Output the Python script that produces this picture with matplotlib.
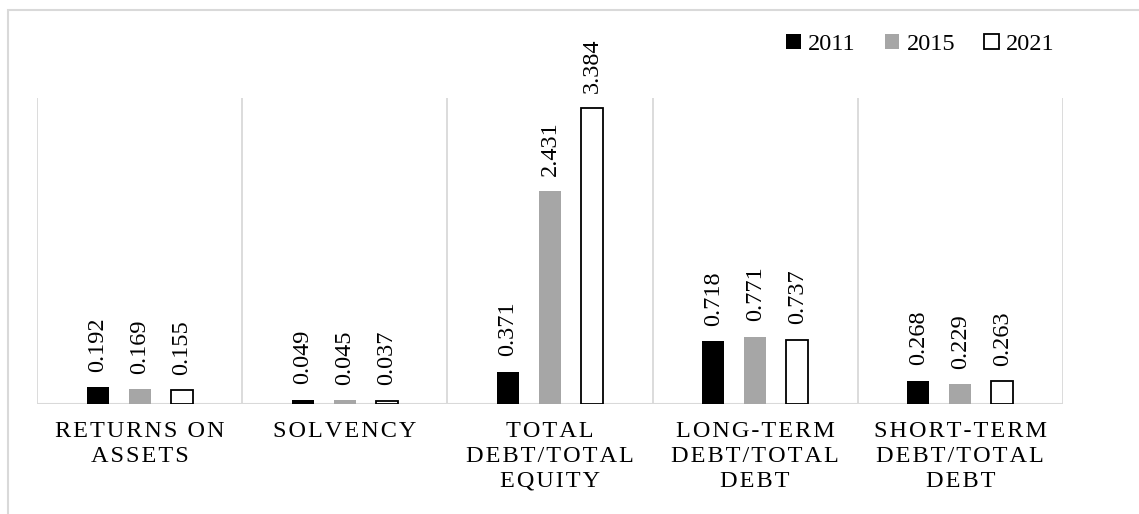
import numpy as np
import matplotlib
matplotlib.use("Agg")
import matplotlib.pyplot as plt
from matplotlib.patches import Rectangle

plt.rcParams['font.family'] = ['Liberation Serif', 'DejaVu Serif']

categories = ["RETURNS ON\nASSETS", "SOLVENCY", "TOTAL\nDEBT/TOTAL\nEQUITY",
              "LONG-TERM\nDEBT/TOTAL\nDEBT", "SHORT-TERM\nDEBT/TOTAL\nDEBT"]
years = ["2011", "2015", "2021"]
v2011 = [0.192, 0.049, 0.371, 0.718, 0.268]
v2015 = [0.169, 0.045, 2.431, 0.771, 0.229]
v2021 = [0.155, 0.037, 3.384, 0.737, 0.263]

FS = 17.5


def spaced(s):
    # excel style letter spacing
    return "\n".join("\u200a".join(line) for line in s.split("\n"))


fig = plt.figure(figsize=(11.39, 5.14), dpi=100)
ax = fig.add_axes([37/1139, 110/514, (1063-37)/1139, (404-98)/514])

x = np.arange(len(categories))
w = 0.107
step = 0.205
series = [v2011, v2015, v2021]
faces = ['black', '#a6a6a6', 'white']
edges = ['black', '#a6a6a6', 'black']
for i, (vals, fc, ec) in enumerate(zip(series, faces, edges)):
    bars = ax.bar(x + (i - 1) * step, vals, w, color=fc, edgecolor=ec,
                  linewidth=1.3 if i == 2 else 0, label=years[i], zorder=3)
    for b, v in zip(bars, vals):
        ax.annotate(f"{v:.3f}", (b.get_x() + b.get_width() / 2, b.get_height()),
                    xytext=(0, 11), textcoords='offset points', rotation=90,
                    ha='center', va='bottom', fontsize=FS)

ax.set_xlim(-0.5, 4.5)
ax.set_ylim(0, 3.5)
for sp in ax.spines.values():
    sp.set_visible(False)
for b in np.arange(-0.5, 5.0, 1.0):
    ax.axvline(b, color='#d9d9d9', lw=1.3, zorder=1)
ax.axhline(0, color='#d9d9d9', lw=1.5, zorder=2)
ax.set_yticks([])
ax.set_xticks(x)
ax.set_xticklabels([spaced(c) for c in categories], fontsize=FS, linespacing=1.25)
ax.tick_params(axis='x', length=0, pad=12)

ax.legend(loc='upper right', bbox_to_anchor=(1072/1139, 1 - 17/514),
          bbox_transform=fig.transFigure, ncol=3, frameon=False, fontsize=FS,
          handlelength=0.6, handleheight=0.6, handletextpad=0.3,
          columnspacing=1.2, borderpad=0.2)

fig.patches.append(Rectangle((8/1139, -0.5), 2, 1.5 - 10/514, transform=fig.transFigure,
                             fill=False, edgecolor='#d9d9d9', lw=1.5))

fig.savefig("out.png", dpi=100)
